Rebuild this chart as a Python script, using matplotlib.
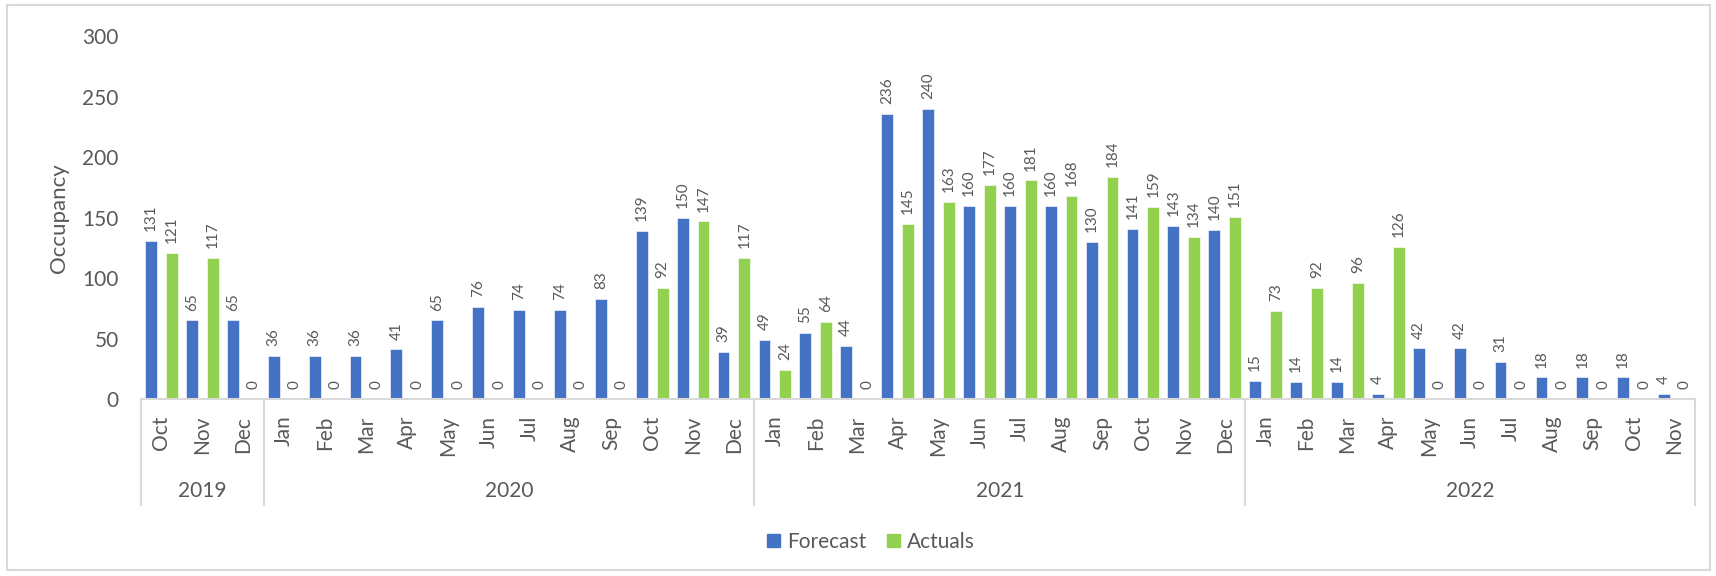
import matplotlib
matplotlib.use("Agg")
import matplotlib.pyplot as plt
from matplotlib.patches import Rectangle, Patch
import numpy as np

plt.rcParams['font.family'] = ['Lato', 'DejaVu Sans']

# months per year shown on the two-level category axis
years = ["2019", "2020", "2021", "2022"]
year_months = [
    ["Oct", "Nov", "Dec"],
    ["Jan", "Feb", "Mar", "Apr", "May", "Jun", "Jul", "Aug", "Sep", "Oct", "Nov", "Dec"],
    ["Jan", "Feb", "Mar", "Apr", "May", "Jun", "Jul", "Aug", "Sep", "Oct", "Nov", "Dec"],
    ["Jan", "Feb", "Mar", "Apr", "May", "Jun", "Jul", "Aug", "Sep", "Oct", "Nov"],
]

forecast = [131, 65, 65,
            36, 36, 36, 41, 65, 76, 74, 74, 83, 139, 150, 39,
            49, 55, 44, 236, 240, 160, 160, 160, 130, 141, 143, 140,
            15, 14, 14, 4, 42, 42, 31, 18, 18, 18, 4]
actuals = [121, 117, 0,
           0, 0, 0, 0, 0, 0, 0, 0, 0, 92, 147, 117,
           24, 64, 0, 145, 163, 177, 181, 168, 184, 159, 134, 151,
           73, 92, 96, 126, 0, 0, 0, 0, 0, 0, 0]

BLUE = "#4472C4"
GREEN = "#92D050"
TXT = "#595959"
LINE = "#D9D9D9"

months = [m for ms in year_months for m in ms]
x = np.arange(len(months))

fig = plt.figure(figsize=(17.16, 5.76), dpi=100)
ax = fig.add_axes([141/1716, 1-399/576, 1554/1716, 362.5/576])

w = 0.29
off = 0.255
ax.bar(x - off, forecast, w, color=BLUE, edgecolor="white", linewidth=0.4)
ax.bar(x + off, actuals, w, color=GREEN, edgecolor="white", linewidth=0.4)

for xs, vals in ((x - off, forecast), (x + off, actuals)):
    for xi, v in zip(xs, vals):
        ax.annotate(str(v), xy=(xi, v), xytext=(0, 7), textcoords="offset points",
                    rotation=90, ha="center", va="bottom", fontsize=11, color=TXT)

ax.set_xlim(-0.5, len(months) - 0.5)
ax.set_ylim(0, 300)
ax.set_yticks([0, 50, 100, 150, 200, 250, 300])
ax.tick_params(axis="y", length=0, pad=16, labelsize=15, labelcolor=TXT)
ax.set_xticks(x)
ax.set_xticklabels(months, rotation=90, va="top", ha="center")
ax.tick_params(axis="x", length=0, pad=12, labelsize=15, labelcolor=TXT)

for s in ("top", "right", "left"):
    ax.spines[s].set_visible(False)
ax.spines["bottom"].set_color(LINE)
ax.spines["bottom"].set_linewidth(1.5)

# year row with separators
trans = ax.get_xaxis_transform()
start = 0
bounds = [-0.5]
for yr, ms in zip(years, year_months):
    end = start + len(ms)
    bounds.append(end - 0.5)
    ax.text((start + end - 1) / 2, -0.254, yr, transform=trans, ha="center", va="center",
            fontsize=15, color=TXT)
    start = end
for bx in bounds:
    ax.plot([bx, bx], [0, -0.292], transform=trans, color=LINE, lw=1.5, clip_on=False)

fig.text(59/1716, 1-218/576, "Occupancy", rotation=90, ha="center", va="center",
         fontsize=16, color=TXT)

handles = [Patch(color=BLUE, label="Forecast"), Patch(color=GREEN, label="Actuals")]
fig.legend(handles=handles, loc="center", bbox_to_anchor=(871/1716, 1-542/576), ncol=2,
           frameon=False, fontsize=15, labelcolor=TXT, handlelength=0.6, handleheight=0.6,
           handletextpad=0.35, columnspacing=1.0)

fig.patches.append(Rectangle((7/1716, 1-570/576), 1703/1716, 565/576, transform=fig.transFigure,
                             fill=False, edgecolor=LINE, linewidth=1.5))

fig.savefig("out.png", dpi=100)
